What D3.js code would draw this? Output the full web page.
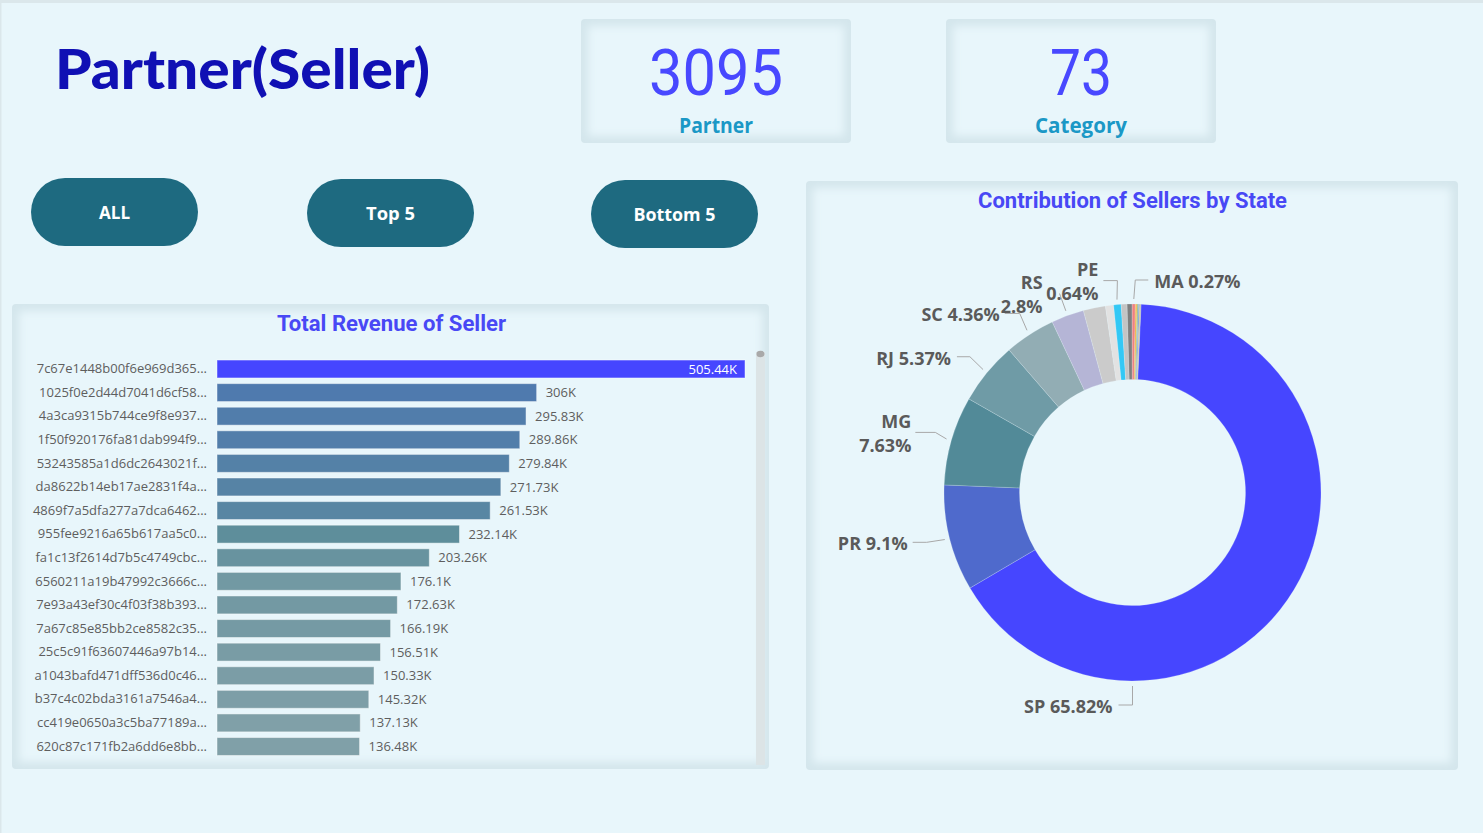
<!DOCTYPE html>
<html><head><meta charset="utf-8">
<script src="https://cdn.jsdelivr.net/npm/d3@7"></script>
<style>
html,body{margin:0;padding:0;background:#e8f6fb;overflow:hidden}
svg{display:block}
</style></head><body>
<svg id="c" width="1483" height="833"></svg>
<script>
// ---------- data ----------
const sellers = ["7c67e1448b00f6e969d365...","1025f0e2d44d7041d6cf58...","4a3ca9315b744ce9f8e937...","1f50f920176fa81dab994f9...","53243585a1d6dc2643021f...","da8622b14eb17ae2831f4a...","4869f7a5dfa277a7dca6462...","955fee9216a65b617aa5c0...","fa1c13f2614d7b5c4749cbc...","6560211a19b47992c3666c...","7e93a43ef30c4f03f38b393...","7a67c85e85bb2ce8582c35...","25c5c91f63607446a97b14...","a1043bafd471dff536d0c46...","b37c4c02bda3161a7546a4...","cc419e0650a3c5ba77189a...","620c87c171fb2a6dd6e8bb..."];
const revenueK = [505.44,306,295.83,289.86,279.84,271.73,261.53,232.14,203.26,176.1,172.63,166.19,156.51,150.33,145.32,137.13,136.48];
const revenueLabels = ["505.44K","306K","295.83K","289.86K","279.84K","271.73K","261.53K","232.14K","203.26K","176.1K","172.63K","166.19K","156.51K","150.33K","145.32K","137.13K","136.48K"];

const states = ["SP","PR","MG","RJ","SC","RS","GO","DF","PE","ES","BA","MA","CE","PB","MT","MS","RN"];
const stateShare = [65.82,9.1,7.63,5.37,4.36,2.8,1.9,0.7,0.64,0.5,0.43,0.27,0.15,0.12,0.1,0.06,0.05];
const stateColors = ["#4646ff","#4f6acc","#528a98","#6f9ba6","#92adb4","#b5b5d6","#cbcbcb","#e2e2e2","#33c8f5","#c4c4c4","#7f7f7f","#f08080","#f5b342","#8fbc8f","#6a8fd6","#d9a441","#a0a0a0"];
const labeledStates = ["SP","PR","MG","RJ","SC","RS","PE","MA"];
const twoLineStates = ["MG","RS","PE"];

const cardValues = ["3095","73"];
const cardLabels = ["Partner","Category"];
const buttonLabels = ["ALL","Top 5","Bottom 5"];

// ---------- setup ----------
const svg = d3.select("#c");
const BG = "#e8f6fb";
const defs = svg.append("defs");
defs.append("filter").attr("id","blur").attr("x","-20%").attr("y","-20%").attr("width","140%").attr("height","140%")
  .append("feGaussianBlur").attr("stdDeviation",4);

svg.append("rect").attr("width",1483).attr("height",833).attr("fill",BG);
svg.append("rect").attr("width",1483).attr("height",3).attr("fill","#dbe7eb");
svg.append("rect").attr("width",1.5).attr("height",833).attr("fill","#dbe7eb");

function panel(x,y,w,h,inset){
  const g = svg.append("g");
  const cid = "clip"+Math.round(x)+"_"+Math.round(y);
  defs.append("clipPath").attr("id",cid).append("rect").attr("x",x).attr("y",y).attr("width",w).attr("height",h).attr("rx",4);
  const gg = g.append("g").attr("clip-path",`url(#${cid})`);
  gg.append("rect").attr("x",x).attr("y",y).attr("width",w).attr("height",h).attr("fill","#d4e6ec");
  gg.append("rect").attr("x",x+inset).attr("y",y+inset).attr("width",w-2*inset).attr("height",h-2*inset)
    .attr("fill",BG).attr("filter","url(#blur)");
  return g;
}

// ---------- header ----------
svg.append("text").attr("x",55).attr("y",89).text("Partner(Seller)")
  .attr("font-family","Lato, 'Open Sans', sans-serif").attr("font-weight",900).attr("font-size",56)
  .attr("fill","#1010b4").attr("textLength",375).attr("lengthAdjust","spacingAndGlyphs");

const cardX = [581, 946];
cardX.forEach((cx,i)=>{
  panel(cx,19,270,124,7);
  svg.append("text").attr("x",cx+135).attr("y",94.5).attr("text-anchor","middle").text(cardValues[i])
    .attr("font-family","Roboto, sans-serif").attr("font-weight",400).attr("font-size",65)
    .attr("fill","#4848ff").attr("textLength",i===0?134:62).attr("lengthAdjust","spacingAndGlyphs");
  svg.append("text").attr("x",cx+135).attr("y",132.5).attr("text-anchor","middle").text(cardLabels[i])
    .attr("font-family","'Open Sans', sans-serif").attr("font-weight",700).attr("font-size",21.5)
    .attr("fill","#1b98c6").attr("textLength",i===0?74:92).attr("lengthAdjust","spacingAndGlyphs");
});

// buttons
const btnX = [31, 307, 591];
const btnY = [178, 179, 180];
const btnTextW = {"ALL":31,"Top 5":49,"Bottom 5":82};
buttonLabels.forEach((b,i)=>{
  const x = btnX[i], y = btnY[i];
  svg.append("rect").attr("x",x).attr("y",y).attr("width",167).attr("height",68).attr("rx",34).attr("fill","#1e6a80");
  svg.append("text").attr("x",x+83.5).attr("y",y+41).attr("text-anchor","middle").text(b)
    .attr("font-family","'Open Sans', sans-serif").attr("font-weight",700).attr("font-size",17)
    .attr("fill","#ffffff").attr("textLength",btnTextW[b]).attr("lengthAdjust","spacingAndGlyphs");
});

// ---------- bar chart ----------
panel(12,304,757,465,7);
svg.append("text").attr("x",391.5).attr("y",331).attr("text-anchor","middle").text("Total Revenue of Seller")
  .attr("font-family","Roboto, sans-serif").attr("font-weight",700).attr("font-size",22)
  .attr("fill","#4848f5").attr("textLength",229).attr("lengthAdjust","spacingAndGlyphs");

// scrollbar
svg.append("rect").attr("x",756).attr("y",352).attr("width",9).attr("height",413).attr("fill","#dce4e6");
svg.append("ellipse").attr("cx",760.5).attr("cy",354).attr("rx",4).attr("ry",3.2).attr("fill","#a9a9a9");

const x = d3.scaleLinear().domain([0,d3.max(revenueK)]).range([217,745]);
const y = d3.scaleBand().domain(sellers).range([357.2,758.3]).paddingInner(0.24).paddingOuter(0.12);
const rest = revenueK.slice(1);
const col = d3.scaleLinear().domain([d3.min(rest),232,d3.max(rest)]).range(["#80a0a8","#5e8e9b","#4f7aae"]);
const barData = sellers.map((s,i)=>({s, v:revenueK[i], lab:revenueLabels[i], top:revenueK[i]===d3.max(revenueK)}));

const bars = svg.append("g");
bars.selectAll("rect").data(barData).join("rect")
  .attr("x",x(0)).attr("y",d=>y(d.s)).attr("width",d=>x(d.v)-x(0)).attr("height",y.bandwidth())
  .attr("fill",d=>d.top?"#4646ff":col(d.v))
  .attr("stroke","rgba(255,255,255,0.45)").attr("stroke-width",1);

const yAxis = svg.append("g").attr("transform",`translate(${x(0)-10},0)`)
  .call(d3.axisLeft(y).tickSize(0).tickPadding(0));
yAxis.select(".domain").remove();
yAxis.selectAll("text").attr("font-family","'Open Sans', sans-serif").attr("font-size",13).attr("fill","#5e5e5e");

bars.selectAll("text.v").data(barData).join("text").attr("class","v")
  .attr("x",d=>d.top? x(d.v)-8 : x(d.v)+9)
  .attr("y",d=>y(d.s)+y.bandwidth()/2).attr("dy","0.35em")
  .attr("text-anchor",d=>d.top?"end":"start")
  .attr("font-family","'Open Sans', sans-serif").attr("font-size",13)
  .attr("fill",d=>d.top?"#ffffff":"#5e5e5e").text(d=>d.lab);

// ---------- donut ----------
panel(806,181,652,589,7);
svg.append("text").attr("x",1132.5).attr("y",208).attr("text-anchor","middle").text("Contribution of Sellers by State")
  .attr("font-family","Roboto, sans-serif").attr("font-weight",700).attr("font-size",22.5)
  .attr("fill","#4848f5").attr("textLength",309).attr("lengthAdjust","spacingAndGlyphs");

const cx = 1132.5, cy = 492.5, R = 188.5, r0 = 113;
const start = 2.6*Math.PI/180;
const pieData = states.map((s,i)=>({s, v:stateShare[i], c:stateColors[i]}));
const arcs = d3.pie().sort(null).value(d=>d.v).startAngle(start).endAngle(start+2*Math.PI)(pieData);
const arc = d3.arc().innerRadius(r0).outerRadius(R);
const dg = svg.append("g").attr("transform",`translate(${cx},${cy})`);
dg.selectAll("path").data(arcs).join("path").attr("d",arc).attr("fill",d=>d.data.c)
  .attr("stroke","rgba(232,246,251,0.35)").attr("stroke-width",0.6);

// label layout (leader offsets relative to the slice's outer-edge point)
const labelLayout = {
  SP:{angle:180, elbow:[0,24],  end:[-14,24],  gap:6},
  PR:{elbow:[-23,4],  end:[-37,4],  gap:5},
  MG:{elbow:[-16,-8], end:[-36,-8], gap:4},
  RJ:{elbow:[-17,-16],end:[-30,-16],gap:6},
  SC:{elbow:[-10,-21],end:[-25,-21],gap:5},
  RS:{elbow:[-8,-22], end:[-8,-22], gap:17},
  PE:{elbow:[0,-24],  end:[-14,-24],gap:5},
  MA:{elbow:[1.5,-24],end:[14.5,-24],gap:6}
};
const pt = (a,rad)=>[rad*Math.sin(a), -rad*Math.cos(a)];
const lg = dg.append("g");
arcs.filter(a=>labeledStates.includes(a.data.s)).forEach(a=>{
  const L = labelLayout[a.data.s];
  const ang = L.angle!==undefined ? L.angle*Math.PI/180 : (a.startAngle+a.endAngle)/2;
  const o = pt(ang,R), s = pt(ang,R+5);
  const e1 = [o[0]+L.elbow[0], o[1]+L.elbow[1]], e2 = [o[0]+L.end[0], o[1]+L.end[1]];
  lg.append("path").attr("d",d3.line()([s,e1,e2])).attr("fill","none").attr("stroke","#a8a8a8").attr("stroke-width",1);
  const right = e2[0] >= e1[0] && L.end[0]>L.elbow[0];
  const tx = right ? e2[0]+L.gap : e2[0]-L.gap;
  const t = lg.append("text").attr("x",tx).attr("y",e2[1]+1.5).attr("text-anchor",right?"start":"end")
    .attr("font-family","'Open Sans', sans-serif").attr("font-weight",700).attr("font-size",18)
    .attr("fill","#5a5a5a");
  const pct = a.data.v + "%";
  if (twoLineStates.includes(a.data.s)) {
    t.append("tspan").attr("x",tx).attr("dy","-0.33em").text(a.data.s);
    t.append("tspan").attr("x",tx).attr("dy","1.33em").text(pct);
  } else {
    t.attr("dy","0.36em").text(a.data.s+" "+pct);
  }
});
</script>
</body></html>
